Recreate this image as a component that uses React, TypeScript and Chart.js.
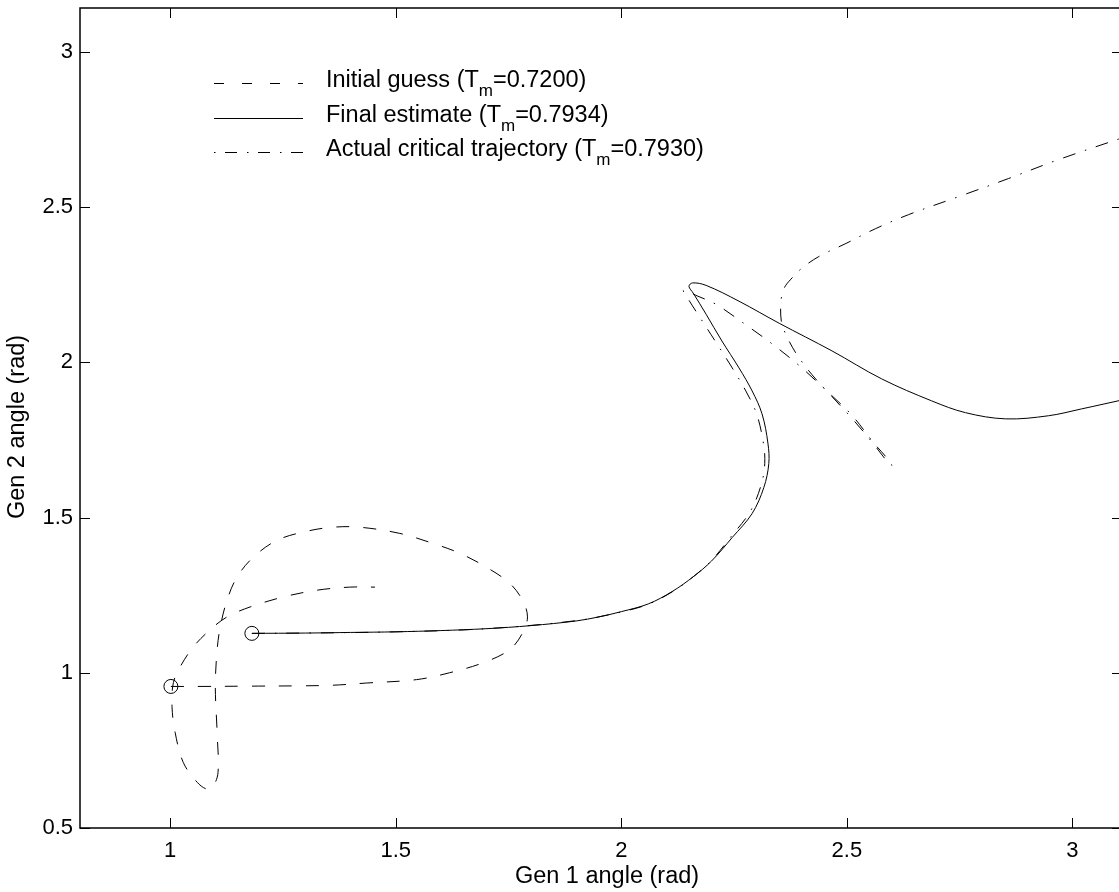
import React, { useEffect, useRef } from 'react';
import { Chart, registerables } from 'chart.js';

Chart.register(...registerables);

// ---- data ----
const initialGuessX = [1.0015, 1.066, 1.177, 1.288, 1.361, 1.435, 1.546, 1.619, 1.693, 1.752, 1.781, 1.792, 1.781, 1.752, 1.701, 1.642, 1.582, 1.509, 1.42, 1.361, 1.303, 1.237, 1.184, 1.148, 1.126, 1.111, 1.104, 1.1, 1.104, 1.106, 1.095, 1.082, 1.06, 1.029, 1.011, 1.004, 1.007, 1.022, 1.051, 1.088, 1.126, 1.177, 1.25, 1.325, 1.398, 1.454];
const initialGuessY = [0.956, 0.956, 0.957, 0.958, 0.96, 0.967, 0.978, 1.0, 1.032, 1.074, 1.128, 1.18, 1.234, 1.289, 1.34, 1.385, 1.417, 1.449, 1.469, 1.469, 1.456, 1.427, 1.372, 1.308, 1.234, 1.148, 1.074, 0.955, 0.807, 0.679, 0.634, 0.625, 0.647, 0.711, 0.807, 0.891, 0.968, 1.019, 1.083, 1.138, 1.18, 1.212, 1.244, 1.266, 1.276, 1.276];

const finalEstimateX = [1.181, 1.3, 1.4, 1.5, 1.6, 1.7, 1.8, 1.9, 1.95, 2.0, 2.06, 2.113, 2.16, 2.2, 2.246, 2.29, 2.316, 2.327, 2.325, 2.312, 2.29, 2.261, 2.223, 2.188, 2.16, 2.15, 2.158, 2.188, 2.261, 2.35, 2.467, 2.577, 2.688, 2.763, 2.852, 2.947, 3.02, 3.12];
const finalEstimateY = [1.127, 1.128, 1.13, 1.132, 1.136, 1.142, 1.152, 1.167, 1.18, 1.197, 1.222, 1.262, 1.31, 1.36, 1.436, 1.513, 1.597, 1.674, 1.74, 1.834, 1.908, 1.982, 2.069, 2.155, 2.222, 2.245, 2.256, 2.248, 2.197, 2.126, 2.037, 1.947, 1.876, 1.838, 1.818, 1.828, 1.85, 1.882];

const criticalX = [1.181, 1.3, 1.5, 1.7, 1.9, 2.0, 2.06, 2.113, 2.16, 2.2, 2.244, 2.286, 2.31, 2.318, 2.315, 2.3, 2.276, 2.246, 2.208, 2.172, 2.148, 2.138, 2.17, 2.21, 2.277, 2.334, 2.394, 2.454, 2.511, 2.56, 2.59, 2.6, 2.59, 2.555, 2.511, 2.467, 2.423, 2.387, 2.365, 2.355, 2.354, 2.361, 2.376, 2.4, 2.438, 2.498, 2.564, 2.637, 2.748, 2.858, 2.969, 3.12];
const criticalY = [1.127, 1.128, 1.132, 1.142, 1.168, 1.196, 1.221, 1.261, 1.31, 1.362, 1.44, 1.52, 1.605, 1.674, 1.74, 1.834, 1.908, 1.982, 2.069, 2.15, 2.205, 2.232, 2.213, 2.187, 2.12, 2.06, 1.99, 1.91, 1.83, 1.74, 1.69, 1.668, 1.68, 1.745, 1.82, 1.89, 1.96, 2.03, 2.09, 2.13, 2.197, 2.239, 2.268, 2.303, 2.341, 2.383, 2.431, 2.476, 2.534, 2.592, 2.653, 2.728];

const startMarkerX = [1.0015, 1.181];
const startMarkerY = [0.956, 1.127];

const xTicks = [1, 1.5, 2, 2.5, 3];
const yTicks = [0.5, 1, 1.5, 2, 2.5, 3];

const legendNames = ['Initial guess', 'Final estimate', 'Actual critical trajectory'];
const legendTm = ['0.7200', '0.7934', '0.7930'];

const xTitle = 'Gen 1 angle (rad)';
const yTitle = 'Gen 2 angle (rad)';

// ---- styles ----
const FONT = '"Liberation Sans", Arial, Helvetica, sans-serif';
const DASH = [13, 14];
const DASHDOT = [13, 10, 1.5, 10];
const LEGEND_DASH = [10, 18];
const LEGEND_DASHDOT = [1.5, 9.5, 12, 10];

const pts = (xs: number[], ys: number[]) => xs.map((x, i) => ({ x, y: ys[i] }));

const frameTicksPlugin = {
  id: 'frameTicks',
  afterDatasetsDraw(chart: any) {
    const { ctx, chartArea: a, scales } = chart;
    ctx.save();
    ctx.strokeStyle = '#000';
    ctx.lineWidth = 1;
    ctx.setLineDash([]);
    const tl = 10;
    xTicks.forEach((v) => {
      const px = Math.round(scales.x.getPixelForValue(v)) + 0.5;
      ctx.beginPath();
      ctx.moveTo(px, a.bottom);
      ctx.lineTo(px, a.bottom - tl);
      ctx.moveTo(px, a.top);
      ctx.lineTo(px, a.top + tl);
      ctx.stroke();
    });
    yTicks.forEach((v) => {
      const py = Math.round(scales.y.getPixelForValue(v)) + 0.5;
      ctx.beginPath();
      ctx.moveTo(a.left, py);
      ctx.lineTo(a.left + tl, py);
      ctx.moveTo(a.right, py);
      ctx.lineTo(a.right - tl, py);
      ctx.stroke();
    });
    ctx.lineWidth = 1.5;
    ctx.strokeRect(a.left, a.top, a.right - a.left, a.bottom - a.top);

    // axis titles
    ctx.fillStyle = '#000';
    ctx.font = `23.5px ${FONT}`;
    ctx.textAlign = 'center';
    ctx.textBaseline = 'middle';
    ctx.fillText(xTitle, (a.left + a.right) / 2 + 6, 877);
    ctx.save();
    ctx.translate(18, (a.top + a.bottom) / 2 + 9);
    ctx.rotate(-Math.PI / 2);
    ctx.fillText(yTitle, 0, 0);
    ctx.restore();
    ctx.restore();
  },
};

const legendPlugin = {
  id: 'customLegend',
  afterDatasetsDraw(chart: any) {
    const { ctx, chartArea: a } = chart;
    const styles = [LEGEND_DASH, [], LEGEND_DASHDOT];
    const x0 = a.left + 134;
    const x1 = a.left + 223;
    const tx = a.left + 246;
    ctx.save();
    ctx.fillStyle = '#000';
    ctx.strokeStyle = '#000';
    legendNames.forEach((name, i) => {
      const ly = a.top + 75 + i * 34.5;
      ctx.lineWidth = 1;
      ctx.setLineDash(styles[i]);
      ctx.beginPath();
      ctx.moveTo(x0, Math.round(ly) + 0.5);
      ctx.lineTo(x1, Math.round(ly) + 0.5);
      ctx.stroke();
      ctx.setLineDash([]);
      const base = ly + 4;
      ctx.textBaseline = 'alphabetic';
      ctx.textAlign = 'left';
      ctx.font = `23.5px ${FONT}`;
      const s1 = `${name} (T`;
      ctx.fillText(s1, tx, base);
      let w = ctx.measureText(s1).width;
      ctx.font = `17px ${FONT}`;
      ctx.fillText('m', tx + w, base + 9);
      w += ctx.measureText('m').width;
      ctx.font = `23.5px ${FONT}`;
      ctx.fillText(`=${legendTm[i]})`, tx + w, base);
    });
    ctx.restore();
  },
};

export default function App() {
  const ref = useRef<HTMLCanvasElement | null>(null);
  useEffect(() => {
    if (!ref.current) return;
    const common = {
      showLine: true,
      borderColor: '#000',
      backgroundColor: '#000',
      borderWidth: 1,
      pointRadius: 0,
      pointHoverRadius: 0,
      tension: 0.35,
      fill: false,
    };
    const chart = new Chart(ref.current, {
      type: 'scatter',
      data: {
        datasets: [
          { ...common, label: legendNames[0], data: pts(initialGuessX, initialGuessY), borderDash: DASH },
          { ...common, label: legendNames[1], data: pts(finalEstimateX, finalEstimateY) },
          { ...common, label: legendNames[2], data: pts(criticalX, criticalY), borderDash: DASHDOT },
          {
            label: 'start',
            data: pts(startMarkerX, startMarkerY),
            showLine: false,
            pointRadius: 7,
            pointStyle: 'circle',
            pointBorderColor: '#000',
            pointBackgroundColor: 'rgba(0,0,0,0)',
            pointBorderWidth: 1,
          },
        ] as any,
      },
      options: {
        animation: false,
        responsive: false,
        devicePixelRatio: 1,
        layout: { padding: { top: 5, right: 6, left: 0, bottom: 0 } },
        plugins: { legend: { display: false }, tooltip: { enabled: false } },
        events: [],
        scales: {
          x: {
            type: 'linear',
            min: 0.8,
            max: 3.11,
            grid: { display: false, drawTicks: false },
            border: { display: false },
            afterBuildTicks: (s: any) => { s.ticks = xTicks.map((v) => ({ value: v })); },
            afterFit: (s: any) => { s.height = 64; s.paddingLeft = 0; s.paddingRight = 0; },
            ticks: {
              color: '#000',
              font: { family: FONT, size: 22 },
              padding: 10,
              maxRotation: 0,
              callback: (v: any) => String(v),
            },
            title: { display: false },
          },
          y: {
            type: 'linear',
            min: 0.5,
            max: 3.1416,
            grid: { display: false, drawTicks: false },
            border: { display: false },
            afterBuildTicks: (s: any) => { s.ticks = yTicks.map((v) => ({ value: v })); },
            afterFit: (s: any) => { s.width = 80; s.paddingTop = 0; s.paddingBottom = 0; },
            ticks: {
              color: '#000',
              font: { family: FONT, size: 22 },
              padding: 7,
              callback: (v: any) => String(v),
            },
            title: { display: false },
          },
        },
      },
      plugins: [frameTicksPlugin, legendPlugin],
    } as any);
    return () => chart.destroy();
  }, []);
  return (
    <div style={{ position: 'fixed', left: 0, top: 0, width: 1119, height: 892, overflow: 'hidden', background: '#fff' }}>
      <canvas ref={ref} width={1130} height={892} style={{ display: 'block' }} />
    </div>
  );
}
